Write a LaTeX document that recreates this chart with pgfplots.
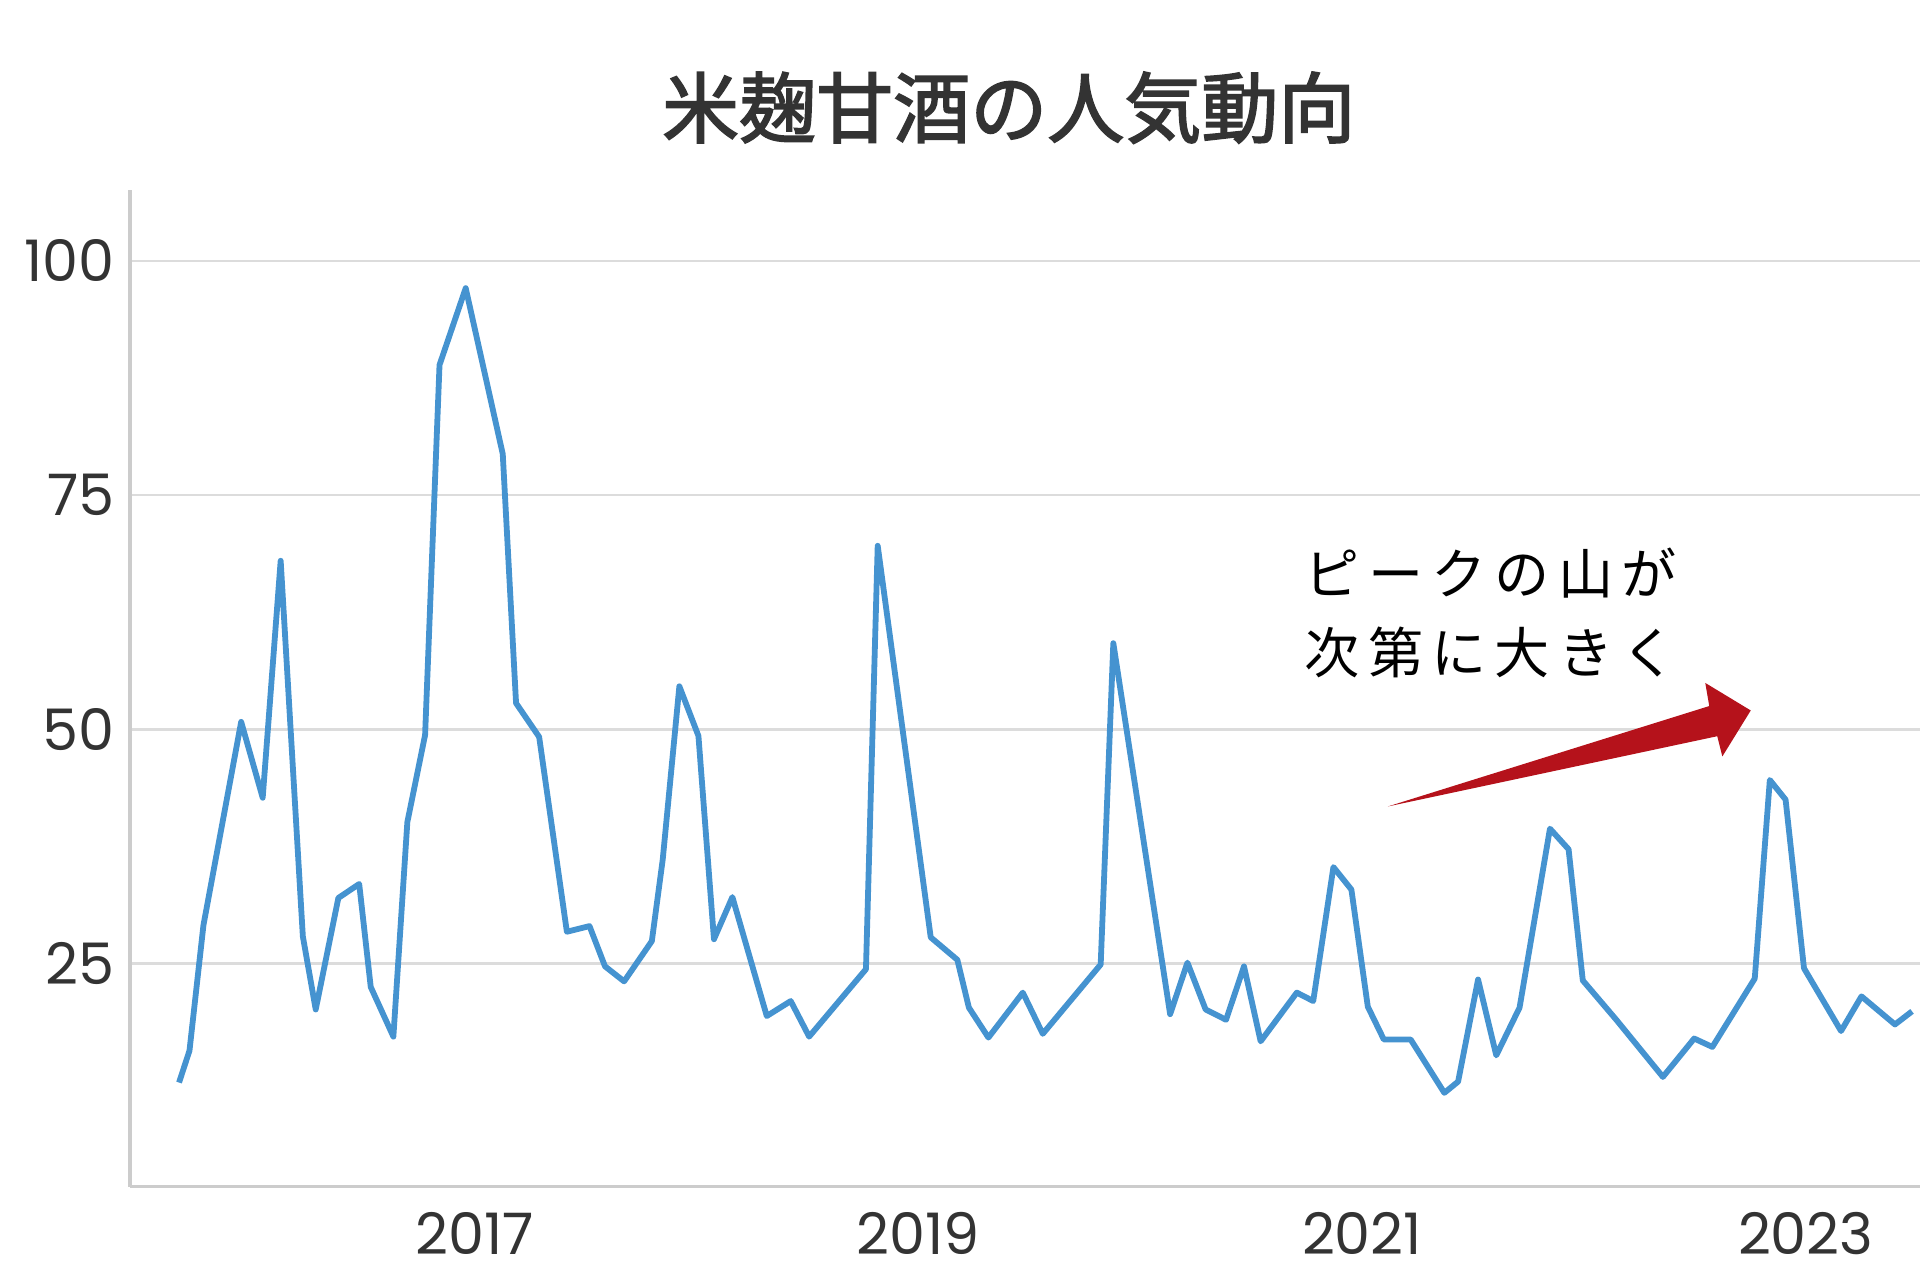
\documentclass[border=0pt]{standalone}
\usepackage{fontspec}
\setmainfont{Poppins}
\newfontfamily\cjk{Noto Sans CJK JP}
\newfontfamily\cjktitle[FakeBold=2.2]{Noto Sans CJK JP}
\newfontfamily\cjkann[LetterSpace=15]{Noto Sans CJK JP}
\usepackage{pgfplots}
\pgfplotsset{compat=1.18}
\definecolor{lineblue}{HTML}{4593D0}
\definecolor{gridgray}{HTML}{DCDCDC}
\definecolor{spinegray}{HTML}{CCCCCC}
\definecolor{arrowred}{HTML}{B5121B}
\definecolor{txt}{HTML}{333333}
\begin{document}
\begin{tikzpicture}
\path[use as bounding box] (-1.06cm,-0.76cm) rectangle (14.62cm,9.69cm);
\begin{axis}[
  at={(0,0)}, anchor=south west,
  scale only axis, width=14.62cm, height=8.14cm,
  xmin=2015.446, xmax=2023.515, ymin=1.2, ymax=107.6,
  axis lines*=left,
  axis line style={spinegray, line width=0.8pt},
  xtick={2017,2019,2021,2023},
  xticklabels={2017,2019,2021,2023},
  ytick={25,50,75,100},
  yticklabels={25,50,75,100},
  ymajorgrids,
  grid style={gridgray, line width=0.6pt},
  major tick length=0pt,
  tick label style={font=\fontsize{13.3}{15}\selectfont, text=txt},
  xticklabel style={yshift=-0.9mm},
  clip=false,
]
\addplot[lineblue, line width=1.35pt, line join=round] coordinates {
(2015.668,12.3) (2015.715,15.7) (2015.778,29.1) (2015.948,50.8) (2016.045,42.7)
(2016.126,68.0) (2016.226,27.9) (2016.284,20.1) (2016.386,32.0) (2016.480,33.5)
(2016.532,22.5) (2016.634,17.2) (2016.697,40.1) (2016.777,49.4) (2016.842,88.9)
(2016.960,97.1) (2017.127,79.4) (2017.187,52.8) (2017.291,49.2) (2017.416,28.4)
(2017.518,29.0) (2017.588,24.7) (2017.674,23.1) (2017.799,27.4) (2017.848,36.1)
(2017.923,54.6) (2018.009,49.3) (2018.079,27.6) (2018.162,32.1) (2018.317,19.4)
(2018.425,21.0) (2018.508,17.2) (2018.764,24.4) (2018.817,69.6) (2019.056,27.8)
(2019.176,25.4) (2019.228,20.3) (2019.316,17.1) (2019.471,21.9) (2019.561,17.5)
(2019.822,24.9) (2019.879,59.2) (2020.135,19.6) (2020.213,25.1) (2020.295,20.1)
(2020.387,19.0) (2020.468,24.7) (2020.543,16.7) (2020.706,21.9) (2020.780,21.0)
(2020.871,35.3) (2020.952,32.9) (2021.026,20.4) (2021.098,16.9) (2021.219,16.9)
(2021.371,11.2) (2021.433,12.4) (2021.523,23.3) (2021.605,15.2) (2021.710,20.3)
(2021.847,39.4) (2021.931,37.2) (2021.995,23.2) (2022.146,19.0) (2022.356,12.9)
(2022.497,17.0) (2022.579,16.1) (2022.770,23.4) (2022.838,44.6) (2022.909,42.5)
(2022.992,24.5) (2023.159,17.8) (2023.251,21.5) (2023.402,18.5) (2023.479,19.9)
};
\fill[arrowred] (axis cs:2021.116,41.77) -- (axis cs:2022.565,52.49) -- (axis cs:2022.547,54.96)
  -- (axis cs:2022.752,52.02) -- (axis cs:2022.624,47.11) -- (axis cs:2022.601,49.27) -- cycle;
\node[anchor=west, inner sep=0pt, text=black] at (axis cs:2020.739,66.7)
  {\cjkann\fontsize{12.8}{14}\selectfont ピークの山が};
\node[anchor=west, inner sep=0pt, text=black] at (axis cs:2020.739,58.2)
  {\cjkann\fontsize{12.8}{14}\selectfont 次第に大きく};
\node[text=txt] at (rel axis cs:0.491,1.0823)
  {\cjktitle\fontsize{17.9}{20}\selectfont 米麹甘酒の人気動向};
\end{axis}
\end{tikzpicture}
\end{document}
